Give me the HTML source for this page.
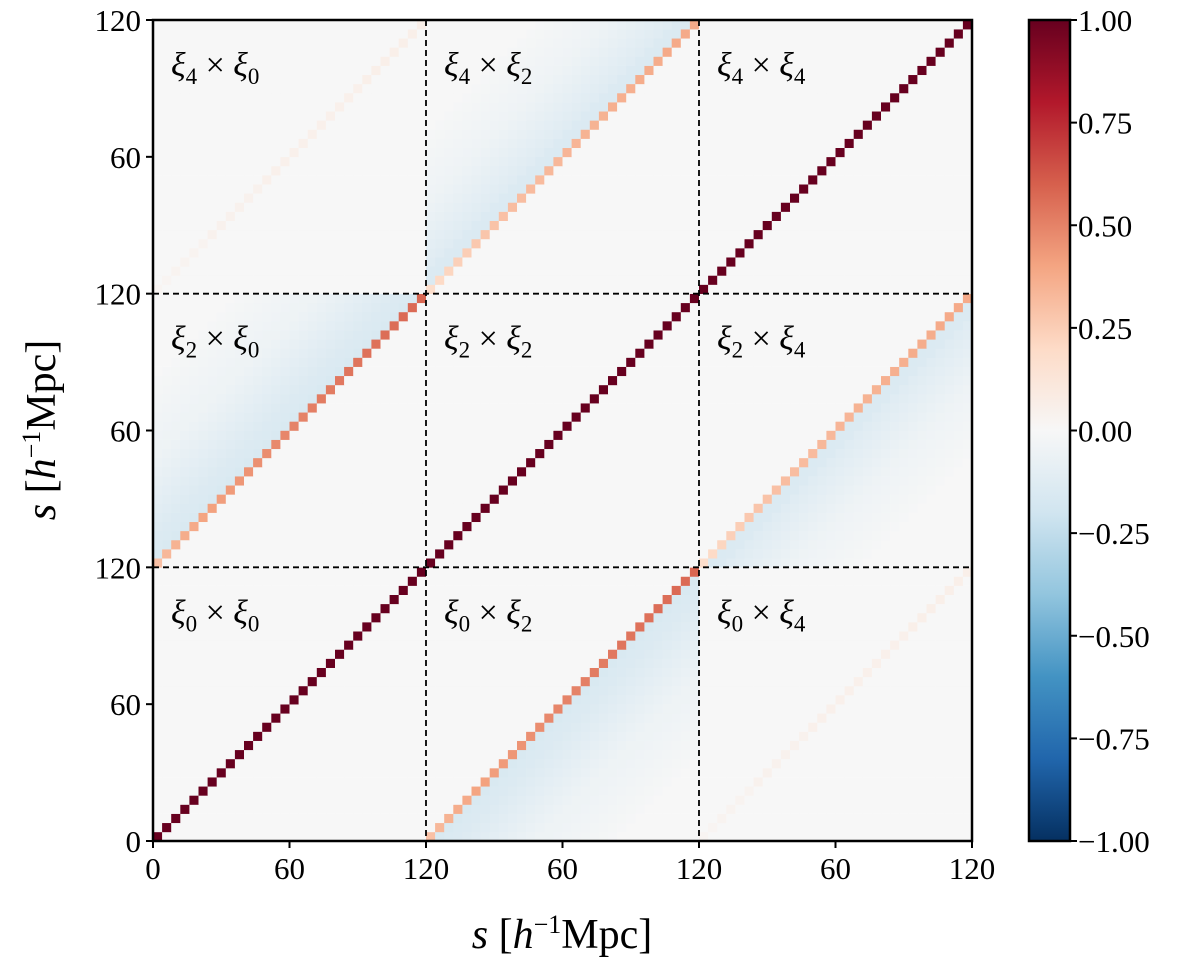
<!DOCTYPE html>
<html><head><meta charset="utf-8"><style>
body{margin:0;background:#fff;}
svg text{font-family:"Liberation Serif","DejaVu Serif",serif;fill:#000;}
</style></head><body>
<svg id="chart" width="1200" height="970" viewBox="0 0 1200 970">
<defs>
<linearGradient id="cbg" x1="0" y1="1" x2="0" y2="0">
<stop offset="0" stop-color="#053061"/><stop offset="0.1" stop-color="#2166ac"/><stop offset="0.2" stop-color="#4393c3"/><stop offset="0.3" stop-color="#92c5de"/><stop offset="0.4" stop-color="#d1e5f0"/><stop offset="0.5" stop-color="#f7f7f7"/><stop offset="0.6" stop-color="#fddbc7"/><stop offset="0.7" stop-color="#f4a582"/><stop offset="0.8" stop-color="#d6604d"/><stop offset="0.9" stop-color="#b2182b"/><stop offset="1" stop-color="#67001f"/>
</linearGradient>
</defs>
<g id="cells"></g>
<g id="overlay"></g>
</svg>
<script>
// ---- data ----
const multipoles = [0, 2, 4];
const binsPerBlock = 30;
const sTicks = [0, 60, 120];
const cbTicks = [1.00, 0.75, 0.50, 0.25, 0.00, -0.25, -0.50, -0.75, -1.00];
// diagonal correlations of cross blocks (index = s bin)
const diag02 = [0.30,0.33,0.35,0.37,0.38,0.40,0.41,0.42,0.43,0.44,0.45,0.46,0.47,0.48,0.49,0.50,0.50,0.51,0.52,0.52,0.53,0.54,0.54,0.55,0.55,0.56,0.56,0.57,0.57,0.58];
const diag24 = [0.18,0.20,0.22,0.24,0.25,0.27,0.28,0.29,0.30,0.31,0.31,0.32,0.32,0.33,0.33,0.34,0.34,0.35,0.35,0.35,0.36,0.36,0.36,0.37,0.37,0.37,0.38,0.38,0.38,0.38];
const diag04 = [0.02,0.02,0.03,0.03,0.03,0.03,0.04,0.04,0.04,0.04,0.04,0.04,0.05,0.05,0.05,0.05,0.05,0.05,0.05,0.05,0.05,0.05,0.05,0.06,0.06,0.06,0.06,0.06,0.06,0.06];
// negative lobe vs offset from diagonal
const lobe02 = [-0.16,-0.15,-0.14,-0.13,-0.12,-0.11,-0.10,-0.09,-0.08,-0.07,-0.06,-0.05,-0.045,-0.04,-0.035,-0.03,-0.025,-0.02,-0.015,-0.01];
const lobe24 = [-0.15,-0.14,-0.12,-0.11,-0.10,-0.09,-0.08,-0.07,-0.06,-0.05,-0.04,-0.035,-0.03,-0.025,-0.02,-0.015,-0.01];
// ---- layout ----
const X0=153, X1=972, Y0=841, Y1=20;
const nb = multipoles.length*binsPerBlock;
const cw=(X1-X0)/nb, ch=(Y0-Y1)/nb;
const stops=[[-1,[5,48,97]],[-0.8,[33,102,172]],[-0.6,[67,147,195]],[-0.4,[146,197,222]],[-0.2,[209,229,240]],[0,[247,247,247]],[0.2,[253,219,199]],[0.4,[244,165,130]],[0.6,[214,96,77]],[0.8,[178,24,43]],[1,[103,0,31]]];
function cmap(v){v=Math.max(-1,Math.min(1,v));for(let k=0;k<stops.length-1;k++){const a=stops[k],b=stops[k+1];if(v<=b[0]){const t=(v-a[0])/(b[0]-a[0]);return 'rgb('+a[1].map((c,i)=>Math.round(c+(b[1][i]-c)*t)).join(',')+')';}}return 'rgb(103,0,31)';}
function val(r,c){
  const br=Math.floor(r/binsPerBlock), bc=Math.floor(c/binsPerBlock);
  const ir=r%binsPerBlock, ic=c%binsPerBlock;
  const la=multipoles[br], lb=multipoles[bc];
  if(la===lb) return ir===ic?1:0;
  let sLo, sHi;
  if(la<lb){sLo=ir;sHi=ic;}else{sLo=ic;sHi=ir;}
  const lo=Math.min(la,lb), hi=Math.max(la,lb);
  if(ir===ic){ if(lo===0&&hi===2) return diag02[ir]; if(lo===2&&hi===4) return diag24[ir]; return diag04[ir]; }
  const d=sHi-sLo;
  if(lo===0&&hi===2 && d>0 && d<=lobe02.length) return lobe02[d-1];
  if(lo===2&&hi===4 && d>0 && d<=lobe24.length) return lobe24[d-1];
  return 0;
}
const NS='http://www.w3.org/2000/svg';
const g=document.getElementById('cells');
for(let r=0;r<nb;r++)for(let c=0;c<nb;c++){
  const e=document.createElementNS(NS,'rect');
  e.setAttribute('x',(X0+c*cw).toFixed(2));e.setAttribute('y',(Y0-(r+1)*ch).toFixed(2));
  e.setAttribute('width',(cw+0.3).toFixed(2));e.setAttribute('height',(ch+0.3).toFixed(2));
  e.setAttribute('fill',cmap(val(r,c)));
  
  
  g.appendChild(e);
}
const o=document.getElementById('overlay');
function add(tag,attrs,text,name){const e=document.createElementNS(NS,tag);for(const k in attrs)e.setAttribute(k,attrs[k]);if(text!==undefined)e.innerHTML=text;


o.appendChild(e);return e;}
const bw=(X1-X0)/3, bh=(Y0-Y1)/3;
for(let k=1;k<3;k++){
  add('line',{x1:X0+k*bw,x2:X0+k*bw,y1:Y1,y2:Y0,stroke:'#000','stroke-width':1.8,'stroke-dasharray':'6,4'},undefined,'block-divider-vertical');
  add('line',{x1:X0,x2:X1,y1:Y0-k*bh,y2:Y0-k*bh,stroke:'#000','stroke-width':1.8,'stroke-dasharray':'6,4'},undefined,'block-divider-horizontal');
}
add('rect',{x:X0,y:Y1,width:X1-X0,height:Y0-Y1,fill:'none',stroke:'#000','stroke-width':2.5},undefined,'plot-frame');
for(let b=0;b<3;b++)for(let t=0;t<sTicks.length;t++){
  if(b>0&&t===0)continue;
  const v=sTicks[t];const x=X0+b*bw+v/120*bw, y=Y0-b*bh-v/120*bh;
  add('line',{x1:x,x2:x,y1:Y0,y2:Y0+7,stroke:'#000','stroke-width':2},undefined,'x-tick');
  add('text',{x:x,y:Y0+38,'font-size':31,'text-anchor':'middle'},v,'x-tick-label');
  add('line',{x1:X0-7,x2:X0,y1:y,y2:y,stroke:'#000','stroke-width':2},undefined,'y-tick');
  add('text',{x:X0-12,y:y+11,'font-size':31,'text-anchor':'end'},v,'y-tick-label');
}
add('text',{x:562,y:948,'font-size':42,'text-anchor':'middle'},'<tspan font-style="italic">s</tspan> [<tspan font-style="italic">h</tspan><tspan font-size="26" dy="-15">−1</tspan><tspan dy="15">Mpc]</tspan>','x-axis-title');
add('text',{x:0,y:0,'font-size':42,'text-anchor':'middle',transform:'translate(55,430) rotate(-90)'},'<tspan font-style="italic">s</tspan> [<tspan font-style="italic">h</tspan><tspan font-size="26" dy="-15">−1</tspan><tspan dy="15">Mpc]</tspan>','y-axis-title');
for(let br=0;br<3;br++)for(let bc=0;bc<3;bc++){
  const x=X0+bc*bw+18, y=Y0-(br+1)*bh+56;
  add('text',{x:x,y:y,'font-size':34},'<tspan font-style="italic">ξ</tspan><tspan font-size="23" dy="8">'+multipoles[br]+'</tspan><tspan dy="-8"> × </tspan><tspan font-style="italic">ξ</tspan><tspan font-size="23" dy="8">'+multipoles[bc]+'</tspan>','block-label');
}
const CX0=1029,CX1=1070;
add('rect',{x:CX0,y:Y1,width:CX1-CX0,height:Y0-Y1,fill:'url(#cbg)',stroke:'#000','stroke-width':2.5},undefined,'colorbar');
for(const v of cbTicks){
  const y=Y1+(1-v)/2*(Y0-Y1);
  add('line',{x1:CX1,x2:CX1+7,y1:y,y2:y,stroke:'#000','stroke-width':2},undefined,'colorbar-tick');
  add('text',{x:CX1+8,y:y+11,'font-size':31},(v<0?'−':'')+Math.abs(v).toFixed(2),'colorbar-tick-label');
}
</script>
</body></html>
